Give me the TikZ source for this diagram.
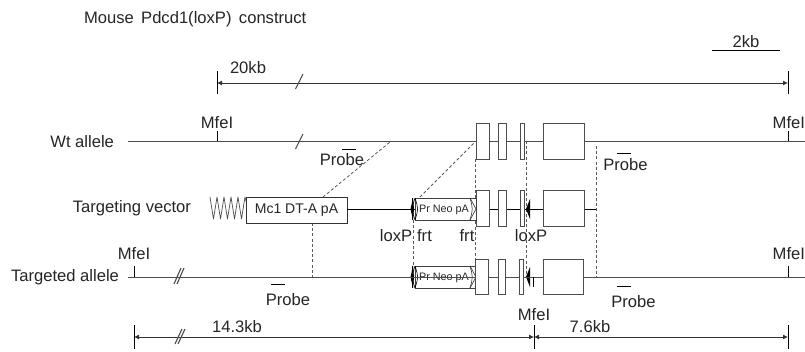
\documentclass[tikz,border=0pt]{standalone}
\usepackage{fontspec}
\setmainfont{Liberation Sans}
\usetikzlibrary{arrows.meta,decorations.pathmorphing}
\tikzset{
  every node/.style={inner sep=0pt,outer sep=0pt},
  lab/.style={font=\fontsize{16.6}{18}\selectfont,text=black!85},
  geneline/.style={draw=black!70,line width=1pt},
  thinline/.style={draw=black,line width=0.8pt},
  exon/.style={draw=black!70,fill=white,line width=1pt,rectangle},
  dashline/.style={draw=black!65,line width=0.8pt,dash pattern=on 3pt off 2.2pt},
  dim/.style={draw=black!80,line width=0.8pt,{Latex[length=5pt,width=5pt]}-{Latex[length=5pt,width=5pt]}},
  probebar/.style={draw=black,line width=1pt},
  brk/.style={draw=black!70,line width=1.1pt},
}
\newcommand{\exonbox}[5]{\node[exon,anchor=north west,minimum width=#3-#2,minimum height=#5-#4] (#1) at (#2,#4) {};}
\begin{document}
\begin{tikzpicture}[x=1pt,y=-1pt]
\useasboundingbox (0,0) rectangle (805,351);
\fill[white] (0,0) rectangle (805,351);
\node[lab,anchor=west] (title) at (84,19) {Mouse\, Pdcd1(loxP)\, construct};
% scale
\coordinate (sa) at (712,50.5); \coordinate (sb) at (780,50.5);
\draw[thinline,line width=0.6pt] (sa) -- (sb);
\node[lab] (s2) at (746,42) {2kb};
% top dim
\coordinate (t1) at (217,83); \coordinate (t2) at (788,83);
\draw[dim] (t1) -- (t2);
\draw[thinline] (217,71) -- (217,94); \draw[thinline] (788,71) -- (788,94);
\node[lab] (d20) at (248,67.5) {20kb};
\draw[brk] (295.5,89) -- (303,74);
% Wt
\coordinate (w1) at (128,141); \coordinate (w2) at (805,141);
\draw[geneline] (w1) -- (w2);
\draw[thinline] (217,131) -- (217,141); \draw[thinline] (788,131) -- (788,141);
\node[lab] (m1) at (217,123) {MfeI};
\node[lab,anchor=east] (m2) at (805,123) {MfeI};
\draw[brk] (295.5,149) -- (303,134);
\node[lab,anchor=east] (wt) at (114,142) {Wt allele};
\node[lab] (p1) at (342,160) {Probe};
\draw[probebar] (342,149) -- (356,149);
\node[lab] (p2) at (625.5,165) {Probe};
\draw[probebar] (617,153) -- (631,153);
\foreach \n/\a/\b in {a/476/489,b/498/506,c/520.5/524,d/543.5/584}
  {\exonbox{w\n}{\a}{\b}{123}{159}}
% dashed
\draw[dashline] (323,197) -- (390,142);
\draw[dashline] (420,197) -- (475,142);
\draw[dashline] (475,159) -- (475,259);
\draw[dashline] (526.5,141) -- (526.5,278);
\draw[dashline] (596,146) -- (596,277);
\draw[dashline] (312,223) -- (312,277);
\draw[dashline] (413,220) -- (413,266);
% vector
\node[lab,anchor=east] (tv) at (191,208) {Targeting vector};
\draw[draw=black!70,line width=0.7pt,line join=round]
  (210,197) -- (213.5,219) -- (217,197) -- (220.5,219) -- (224,197) -- (227.5,219) -- (231,197) -- (234.5,219) -- (238,197) -- (241.5,219) -- (245,197) -- (247,205);
\node[exon,anchor=north west,minimum width=101pt,minimum height=26pt,line width=0.8pt,draw=black!80] (mc) at (246,197) {};
\node[font=\fontsize{14}{16}\selectfont,text=black!85] at (296.5,210.5) {Mc1 DT-A pA};
\coordinate (ve) at (596,209);
\draw[geneline,draw=black] (mc.east |- ve) -- (ve);
\foreach \n/\a/\b in {a/476/489,b/498/506,c/520.5/524,d/543.5/584}
  {\exonbox{v\n}{\a}{\b}{190}{226}}
\foreach \yy/\hh in {209/11,277/11}{
  \node[exon,draw=black!75,minimum width=61pt,minimum height=2*\hh pt,line width=0.8pt] at (445.5,\yy) {};
  \fill[black] (410.5,\yy) -- (413,\yy-\hh) -- (414,\yy) -- (413,\yy+\hh) -- cycle;
  \draw[black,line width=0.6pt] (412,\yy-\hh) -- (412,\yy+\hh);
  \draw[black,line width=0.6pt] (415,\yy-\hh) .. controls (411.5,\yy) .. (415,\yy+\hh);
  \draw[black,line width=0.6pt] (415,\yy-\hh) .. controls (418.5,\yy) .. (415,\yy+\hh);
  \draw[black!80,line width=0.6pt] (470,\yy-\hh) .. controls (473,\yy) .. (470,\yy+\hh);
  \draw[black!80,line width=0.6pt] (470,\yy-\hh) -- (476,\yy) -- (470,\yy+\hh);
  \node[font=\fontsize{10.8}{12}\selectfont,text=black!85] at (444,\yy+0.5) {Pr Neo pA};
  \fill[black] (526,\yy) -- (530,\yy-\hh+1) -- (530,\yy+\hh-1) -- cycle;
}
\node[lab] (lx1) at (396,236) {loxP};
\node[lab] (fr1) at (424.5,236) {frt};
\node[lab] (fr2) at (467,236) {frt};
\node[lab] (lx2) at (531,236) {loxP};
% targeted
\coordinate (ta1) at (128,277); \coordinate (ta2) at (805,277);
\draw[geneline] (ta1) -- (ta2);
\draw[thinline] (134,266) -- (134,277); \draw[thinline] (788,266) -- (788,277);
\draw[thinline] (533,277) -- (533,287);
\node[lab] (m3) at (134,254) {MfeI};
\node[lab,anchor=east] (m4) at (805,254) {MfeI};
\draw[brk] (174,284) -- (181,268); \draw[brk] (177,284) -- (184,268);
\node[lab,anchor=east] (ta) at (119,277) {Targeted allele};
\foreach \n/\a/\b in {a/475/488.5,b/498/505,c/519.5/523,d/543.5/583.5}
  {\exonbox{t\n}{\a}{\b}{259}{294}}
\node[lab] (p3) at (288,300) {Probe};
\draw[probebar] (271,284) -- (285,284);
\node[lab] (p4) at (633.5,302) {Probe};
\draw[probebar] (617,286) -- (631,286);
% bottom dim
\coordinate (b1) at (134,337); \coordinate (b2) at (534,337); \coordinate (b3) at (788,337);
\draw[dim] (b1) -- (b2);
\draw[dim] (b2) -- (b3);
\draw[thinline] (134,325) -- (134,349);
\draw[thinline] (534,325) -- (534,349);
\draw[thinline] (788,325) -- (788,349);
\draw[brk] (175,344) -- (182,329); \draw[brk] (178,344) -- (185,329);
\node[lab] (d14) at (237,327) {14.3kb};
\node[lab] (d7) at (590,327) {7.6kb};
\node[lab] (m5) at (534,315) {MfeI};
\end{tikzpicture}
\end{document}
